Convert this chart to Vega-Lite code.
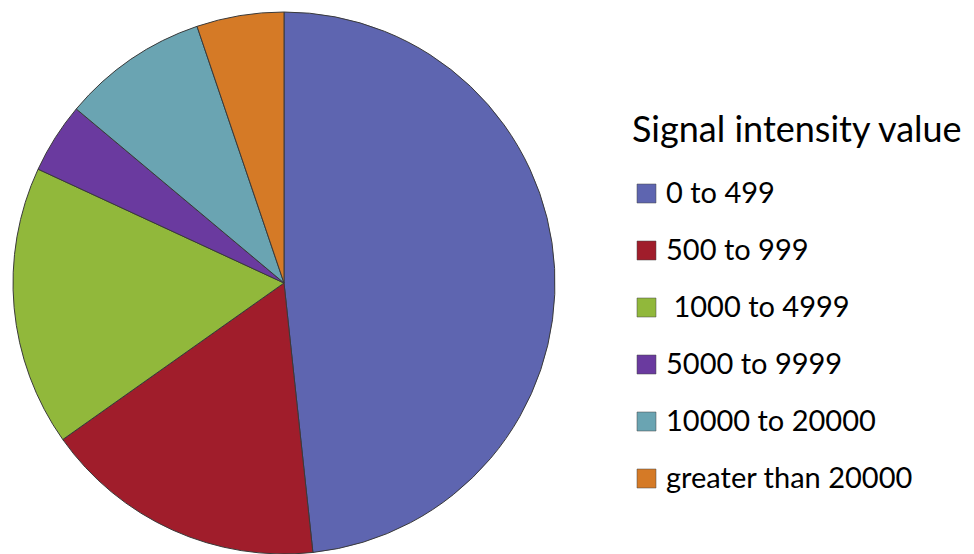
{
  "$schema": "https://vega.github.io/schema/vega-lite/v6.json",
  "width": 568,
  "height": 566,
  "padding": 0,
  "autosize": {"type": "pad"},
  "background": "white",
  "view": {"stroke": null},
  "data": {
    "values": [
      {"range": "0 to 499", "share": 48.3, "rank": 1},
      {"range": "500 to 999", "share": 16.9, "rank": 2},
      {"range": "\u200b\u00a01000 to 4999", "share": 16.7, "rank": 3},
      {"range": "5000 to 9999", "share": 4.2, "rank": 4},
      {"range": "10000 to 20000", "share": 8.7, "rank": 5},
      {"range": "greater than 20000", "share": 5.2, "rank": 6}
    ]
  },
  "mark": {"type": "arc", "radius": 271, "stroke": "#3a3a3a", "strokeWidth": 1},
  "encoding": {
    "theta": {"field": "share", "type": "quantitative", "stack": true},
    "order": {"field": "rank", "type": "quantitative"},
    "color": {
      "field": "range",
      "type": "nominal",
      "scale": {
        "domain": ["0 to 499", "500 to 999", "\u200b\u00a01000 to 4999", "5000 to 9999", "10000 to 20000", "greater than 20000"],
        "range": ["#5e65b0", "#a01d2b", "#91b83b", "#6a3a9f", "#6aa4b2", "#d57a26"]
      },
      "legend": {
        "orient": "none",
        "legendX": 632,
        "legendY": 114,
        "title": "Signal intensity value",
        "titleFont": "Lato",
        "titleFontSize": 36,
        "titleFontWeight": "normal",
        "titleColor": "black",
        "titlePadding": 29,
        "titleLimit": 400,
        "labelFont": "Lato",
        "labelFontSize": 29,
        "labelColor": "black",
        "labelLimit": 400,
        "labelOffset": 5,
        "symbolType": "square",
        "symbolSize": 361,
        "symbolStrokeWidth": 0.5,
        "symbolStrokeColor": "#444",
        "symbolOpacity": 1,
        "rowPadding": 27,
        "padding": 0
      }
    }
  }
}
